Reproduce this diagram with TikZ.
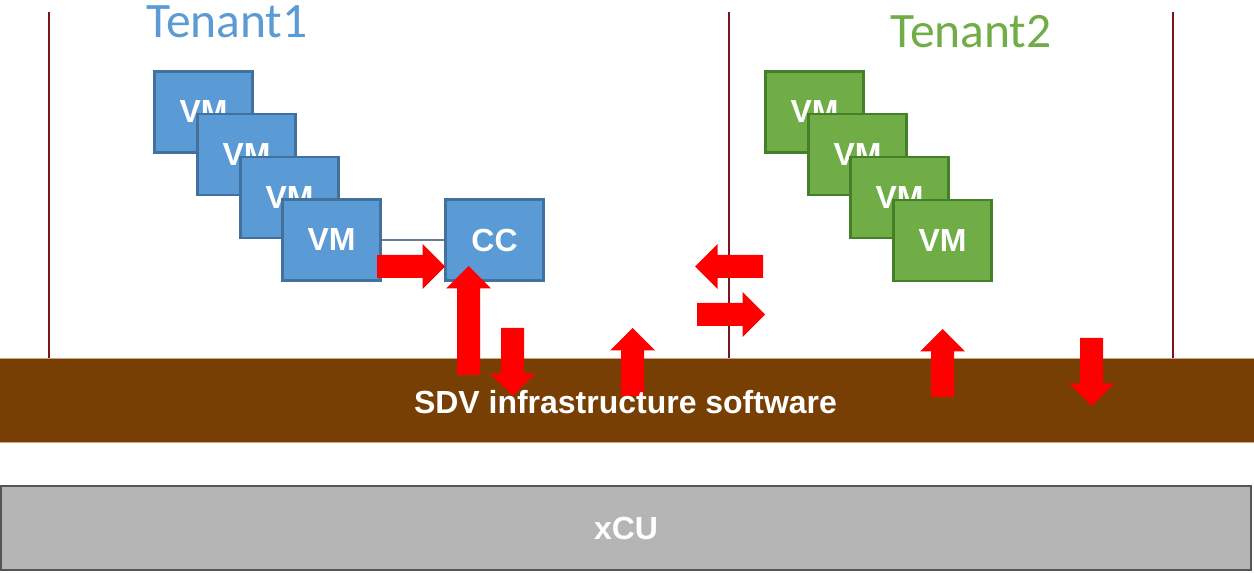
\documentclass[tikz,border=0pt]{standalone}
\usepackage{fontspec}
\setmainfont{Liberation Sans}
\newfontfamily\tenantfont{Carlito}
\definecolor{vmblue}{HTML}{5B9BD5}
\definecolor{vmblueedge}{HTML}{41719C}
\definecolor{vmgreen}{HTML}{70AD47}
\definecolor{vmgreenedge}{HTML}{44802A}
\definecolor{infrabrown}{HTML}{773F04}
\definecolor{infraedge}{HTML}{C9A57E}
\definecolor{cugray}{HTML}{B5B5B5}
\definecolor{cuedge}{HTML}{555555}
\definecolor{fenceline}{HTML}{7B1515}
\definecolor{arrowred}{HTML}{FF0000}
\definecolor{linkgray}{HTML}{687D93}

% block arrow: #1 direction (deg), (#2,#3) tail centre, #4 length
\newcommand\redblock[4]{%
  \fill[arrowred, shift={(#2,#3)}, rotate=#1]
    (0,-11.5) -- ({#4-22.5},-11.5) -- ({#4-22.5},-22.5) -- (#4,0)
    -- ({#4-22.5},22.5) -- ({#4-22.5},11.5) -- (0,11.5) -- cycle;}

\tikzset{
  box/.style={rectangle, minimum width=1.96cm, minimum height=1.62cm,
    inner sep=0pt, line width=1.4pt, text=white,
    font=\fontsize{18.2pt}{20pt}\selectfont\bfseries},
  bluebox/.style={box, fill=vmblue, draw=vmblueedge},
  greenbox/.style={box, fill=vmgreen, draw=vmgreenedge},
  bar/.style={rectangle, inner sep=0pt, text=white,
    font=\fontsize{18.2pt}{20pt}\selectfont\bfseries},
  fence/.style={draw=fenceline, line width=1.1pt},
  tenant/.style={anchor=base, inner sep=0pt,
    font=\tenantfont\fontsize{28.2pt}{31pt}\selectfont},
}

\begin{document}
\begin{tikzpicture}[x=0.02cm, y=-0.02cm]
  \useasboundingbox (0,0) rectangle (1254,573);

  % tenant boundaries
  \draw[fence] (49,12) -- (49,358);
  \draw[fence] (729,12) -- (729,358);
  \draw[fence] (1173,12) -- (1173,358);

  % tenant titles
  \node[tenant, text=vmblue] (t1) at (227,38) {Tenant1};
  \node[tenant, text=vmgreen] (t2) at (971,48) {Tenant2};

  % tenant 1 virtual machines and CC
  \node[bluebox] (bvm1) at (203.5,112) {VM};
  \node[bluebox] (bvm2) at (246.5,154.5) {VM};
  \node[bluebox] (bvm3) at (289.5,197.5) {VM};
  \node[bluebox] (bvm4) at (331.5,240) {VM};
  \node[bluebox] (cc) at (494.5,240) {CC};
  \draw[linkgray, line width=1.1pt] (bvm4.east) -- (cc.west);

  % tenant 2 virtual machines
  \node[greenbox] (gvm1) at (814.5,112) {VM};
  \node[greenbox] (gvm2) at (857.5,154.5) {VM};
  \node[greenbox] (gvm3) at (899.5,197.5) {VM};
  \node[greenbox] (gvm4) at (942.5,240.5) {VM};

  % infrastructure layer
  \node[bar, fill=infrabrown, draw=infraedge, line width=0.5pt,
        minimum width=25.1cm, minimum height=1.68cm] (sdv) at (627,400) {};
  % compute unit
  \node[bar, fill=cugray, draw=cuedge, line width=1.3pt,
        minimum width=25.0cm, minimum height=1.68cm] (xcu) at (626,528) {xCU};

  % data flows
  \redblock{0}{377}{266.5}{68}
  \redblock{90}{468.5}{375}{109}
  \redblock{270}{512.5}{328}{68}
  \redblock{90}{632.5}{396}{68}
  \redblock{180}{763}{266.5}{68}
  \redblock{0}{697}{314.5}{68}
  \redblock{90}{942.5}{397}{68}
  \redblock{270}{1091.5}{338}{68}

  \node[bar] (sdvlabel) at (625.5,402) {SDV infrastructure software};
\end{tikzpicture}
\end{document}
